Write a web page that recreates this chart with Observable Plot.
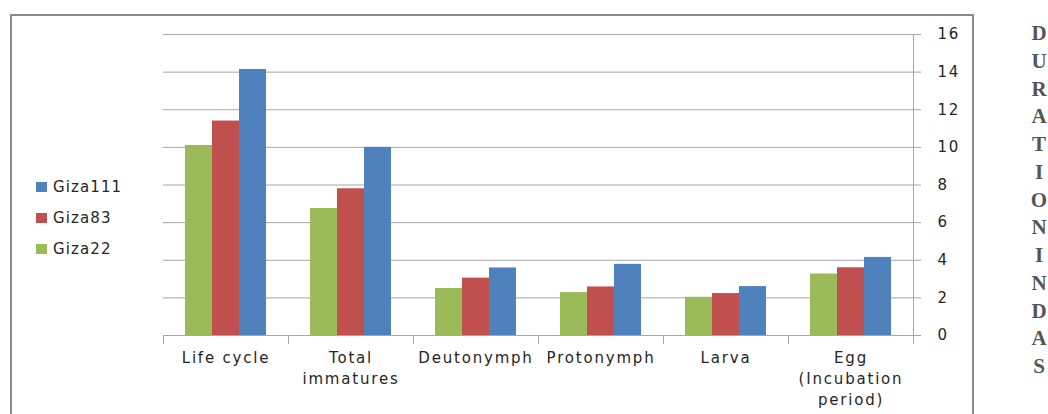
<!DOCTYPE html>
<html>
<head>
<meta charset="utf-8">
<script src="https://cdn.jsdelivr.net/npm/d3@7"></script>
<script src="https://cdn.jsdelivr.net/npm/@observablehq/plot@0.6"></script>
<style>
  body { margin: 0; background: #fff; }
  #wrap { position: relative; width: 1048px; height: 414px; overflow: hidden; font-family: "DejaVu Sans", sans-serif; }
  #border { position: absolute; left: 10px; top: 14px; width: 964px; height: 430px; border: 2px solid #898989; box-sizing: border-box; }
  #chart { position: absolute; left: 0; top: 0; }
  #chart svg text { letter-spacing: 1.8px; }
  #legend { position: absolute; left: 36px; top: 176px; }
  .item { display: flex; align-items: center; height: 22px; margin-bottom: 9px; font-size: 15px; color: #262626; letter-spacing: 1.1px; }
  .sw { width: 11px; height: 10px; margin-right: 6px; }
  #side { position: absolute; left: 1030px; top: 20px; width: 18px; text-align: center; font-family: "Liberation Serif", serif; font-weight: bold; font-size: 21px; line-height: 27.75px; color: #555; word-break: break-all; }
</style>
</head>
<body>
<div id="wrap">
  <div id="border"></div>
  <div id="chart"></div>
  <div id="legend"></div>
  <div id="side"></div>
</div>
<script>
const categories = ["Life cycle", "Total immatures", "Deutonymph", "Protonymph", "Larva", "Egg (Incubation period)"];
const tickLabels = ["Life cycle", "Total\nimmatures", "Deutonymph", "Protonymph", "Larva", "Egg\n(Incubation\nperiod)"];
const series = ["Giza22", "Giza83", "Giza111"];
const colors = ["#9BBB59", "#C0504D", "#4F81BD"];
const giza22 = [10.1, 6.75, 2.5, 2.28, 2.03, 3.27];
const giza83 = [11.4, 7.8, 3.05, 2.58, 2.23, 3.6];
const giza111 = [14.14, 10.0, 3.59, 3.78, 2.6, 4.15];
const yTicks = [0, 2, 4, 6, 8, 10, 12, 14, 16];
const sideTitle = "DURATION IN DAS";

const values = [giza22, giza83, giza111];
const table = categories.flatMap((c, i) => series.map((s, j) => ({category: c, series: s, value: values[j][i]})));

const W = 1048, H = 414, mT = 34, mB = 79, mL = 162, mR = 135;
const plotH = H - mT - mB;
const grey = "#a6a6a6";

const chart = Plot.plot({
  width: W, height: H,
  marginLeft: mL, marginRight: mR, marginTop: mT, marginBottom: mB,
  style: {fontFamily: "DejaVu Sans", fontSize: "15px", color: "#262626", background: "transparent", overflow: "visible"},
  fx: {domain: categories, padding: 0, label: null},
  x: {domain: series, paddingInner: 0, paddingOuter: 0.76, axis: null},
  y: {domain: [0, 16]},
  color: {domain: series, range: colors},
  marks: [
    Plot.gridY(yTicks, {stroke: grey, strokeOpacity: 1}),
    Plot.barY(table, {fx: "category", x: "series", y: "value", fill: "series"}),
    Plot.ruleY([0], {stroke: grey}),
    Plot.frame({anchor: "left", stroke: grey, insetTop: plotH, insetBottom: -8}),
    Plot.frame({anchor: "right", stroke: grey, insetTop: plotH, insetBottom: -8}),
    Plot.frame({anchor: "right", stroke: grey, insetBottom: -8, fx: categories[categories.length - 1]}),
    Plot.axisFx({anchor: "bottom", tickSize: 0, tickPadding: 13, lineHeight: 1.4, fill: "#262626",
      tickFormat: (c) => tickLabels[categories.indexOf(c)]}),
    Plot.axisY({anchor: "right", ticks: yTicks, tickSize: 7, tickPadding: 17, stroke: grey, fill: "#262626", label: null})
  ]
});
document.getElementById("chart").appendChild(chart);

const legend = document.getElementById("legend");
[...series].reverse().forEach((s) => {
  const item = document.createElement("div");
  item.className = "item";
  const sw = document.createElement("div");
  sw.className = "sw";
  sw.style.background = colors[series.indexOf(s)];
  const t = document.createElement("span");
  t.textContent = s;
  item.appendChild(sw);
  item.appendChild(t);
  legend.appendChild(item);
});

document.getElementById("side").textContent = sideTitle;
</script>
</body>
</html>
